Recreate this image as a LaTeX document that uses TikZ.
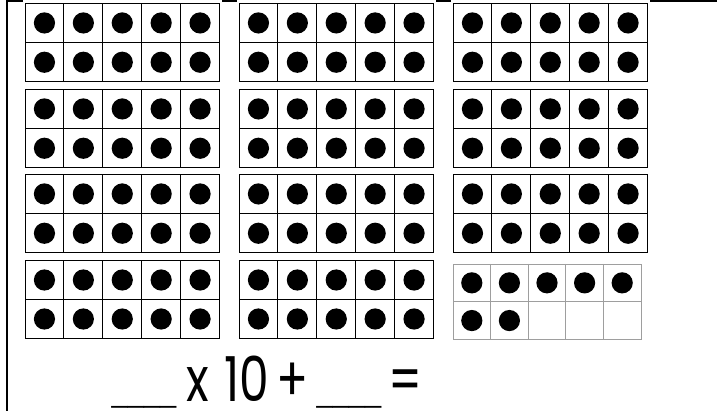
\documentclass[tikz,border=0pt]{standalone}
\usepackage{fontspec}
\setmainfont{Poppins}
\newfontfamily\blankfont{Liberation Sans}
\tikzset{
  frameline/.style={draw=black,line width=0.9pt},
  lightline/.style={draw=black!38,line width=0.9pt},
  counter/.style={fill=black},
  edgeline/.style={draw=black,line width=1.6pt},
  eqtext/.style={anchor=base,inner sep=0pt,xscale=0.76,transform shape,font=\fontsize{62}{66}\selectfont},
  blanktext/.style={anchor=base,inner sep=0pt,font=\blankfont\fontsize{29}{32}\selectfont},
}
% #1 x, #2 y, #3 cell w, #4 cell h, #5 number of dots, #6 line style
\newcommand\tenframe[6]{%
  \fill[white] (#1-2.5,#2-3) rectangle (#1+5*#3+2.5,#2+2*#4+2);
  \foreach \c in {0,...,4}{
    \foreach \r in {0,1}{
      \pgfmathtruncatemacro\k{\r*5+\c+1}
      \ifnum\k>#5\relax\else
        \fill[counter] (#1+\c*#3+0.5*#3,#2+\r*#4+0.5*#4) circle (10.6);
      \fi
    }
  }
  \foreach \c in {1,...,4}{\draw[#6] (#1+\c*#3,#2) -- (#1+\c*#3,#2+2*#4);}
  \draw[#6] (#1,#2+#4) -- (#1+5*#3,#2+#4);
  \draw[#6] (#1,#2) rectangle (#1+5*#3,#2+2*#4);
}
\begin{document}
\begin{tikzpicture}[x=1pt,y=-1pt]
  \useasboundingbox (0,0) rectangle (717,411);
  \fill[white] (0,0) rectangle (717,411);
  \draw[edgeline] (7,1) -- (717,1);
  \draw[edgeline] (7,0.2) -- (7,411);
  \foreach \fx in {25,239,453}{
    \foreach \fy in {3.3,89.3,174.3}{
      \tenframe{\fx}{\fy}{38.9}{39.3}{10}{frameline}
    }
  }
  \tenframe{25}{260.5}{38.9}{39}{10}{frameline}
  \tenframe{239}{260.5}{38.9}{39}{10}{frameline}
  \tenframe{453}{264}{37.6}{37.7}{7}{lightline}
  \node[blanktext] (blank1) at (144,402.5) {\_\_\_\_};
  \node[eqtext] (times) at (198,401.5) {x};
  \node[eqtext] (ten) at (246.5,401.5) {10};
  \node[eqtext] (plus) at (292.5,401.5) {+};
  \node[blanktext] (blank2) at (349,402.5) {\_\_\_\_};
  \node[eqtext] (equals) at (406,401.5) {=};
\end{tikzpicture}
\end{document}
